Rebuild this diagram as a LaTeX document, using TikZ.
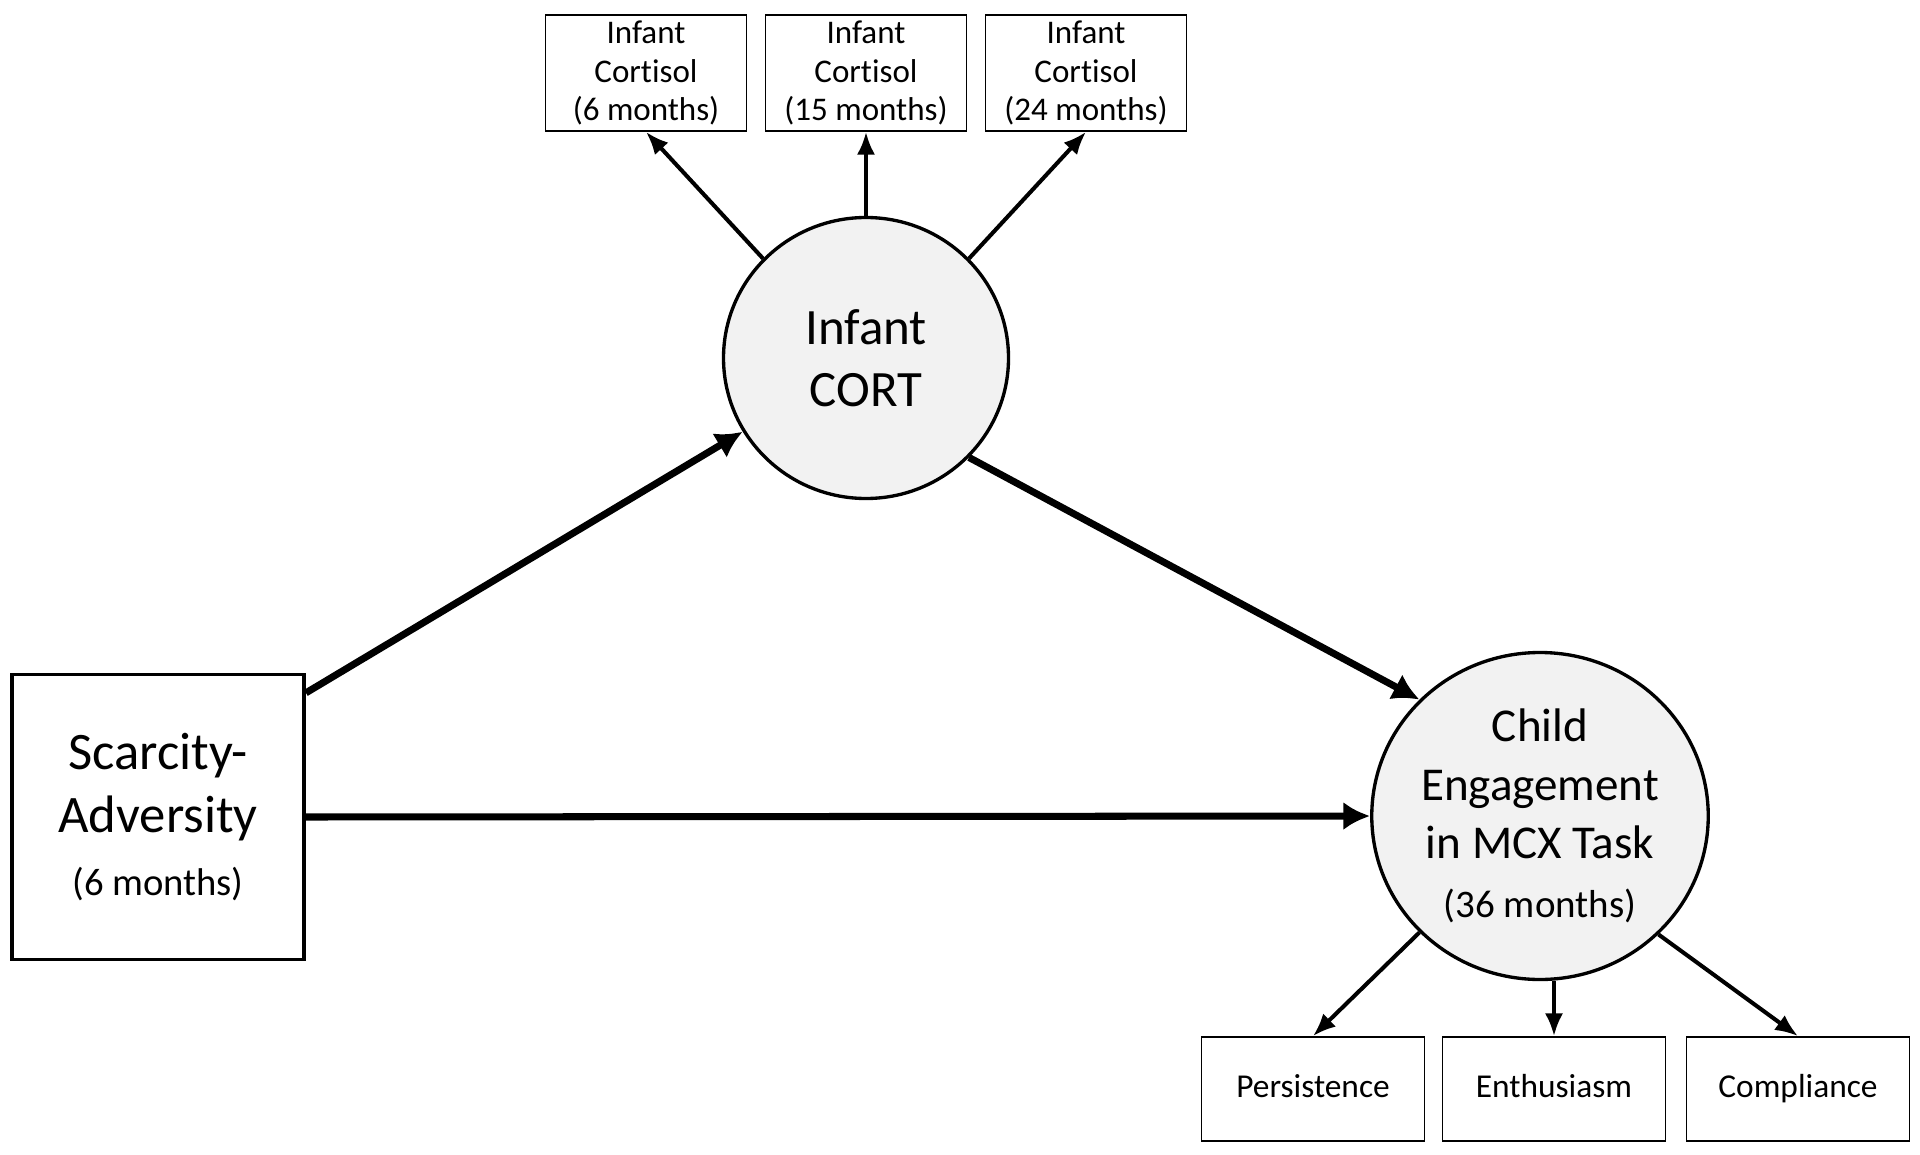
\documentclass[tikz,border=0pt]{standalone}
\usepackage{fontspec}
\setmainfont{Carlito}[Ligatures=NoCommon]
\usepackage{tikz}
\usetikzlibrary{scopes,shapes.geometric,arrows.meta}

\begin{document}
\begin{tikzpicture}[
      big/.style={-{Latex[length=7.6pt,width=8pt]},line width=2pt},
      small/.style={-{Latex[length=6.5pt,width=5.2pt]},line width=1.15pt},
      obs/.style={rectangle,draw=black,line width=0.5pt,minimum width=2.01cm,minimum height=1.16cm,align=center,inner sep=0pt,font=\fontsize{9.4}{11}\selectfont},
      ind/.style={rectangle,draw=black,line width=0.5pt,minimum width=2.23cm,minimum height=1.04cm,text height=6.8pt,text depth=2pt,font=\fontsize{9.5}{11.5}\selectfont},
      lat/.style={ellipse,draw=black,fill=black!5,line width=0.95pt,align=center,inner sep=0pt}
]
      \useasboundingbox (0,0) rectangle (19.2,-11.55);
      \node[obs] at (6.46,-0.73) (c6) {Infant\\Cortisol\\(6 months)};
      \node[obs] at (8.66,-0.73) (c15) {Infant\\Cortisol\\(15 months)};
      \node[obs] at (10.86,-0.73) (c24) {Infant\\Cortisol\\(24 months)};
      \node[lat,minimum width=2.85cm,minimum height=2.81cm,font=\fontsize{14.5}{17.8}\selectfont] at (8.66,-3.58) (cort) {Infant\\CORT};
      \node[rectangle,draw=black,line width=1.1pt,minimum width=2.92cm,minimum height=2.85cm,align=center,font=\fontsize{15}{18}\selectfont] at (1.58,-8.17) (scar) {Scarcity-\\Adversity\\{\fontsize{11}{14}\selectfont(6 months)}};
      \node[lat,minimum width=3.35cm,minimum height=3.27cm,font=\fontsize{13.4}{16.7}\selectfont] at (15.40,-8.16) (child) {Child\\Engagement\\in MCX Task\\{\fontsize{11.1}{14}\selectfont(36 months)}};
      \node[ind] at (13.13,-10.89) (pers) {Persistence};
      \node[ind] at (15.54,-10.89) (enth) {Enthusiasm};
      \node[ind] at (17.98,-10.89) (comp) {Compliance};
      {[big]
          \draw (scar.40) -- (cort);
          \draw (scar.east) -- (child.west);
          \draw (cort.-44) -- (child.136);
      }
      {[small]
          \draw (cort.136) -- (c6.south);
          \draw (cort.north) -- (c15.south);
          \draw (cort.44) -- (c24.south);
          \draw (child.-136) -- (pers.north);
          \draw (enth.north |- child.south) -- (enth.north);
          \draw (child.-45) -- (comp.north);
      }
\end{tikzpicture}
\end{document}
